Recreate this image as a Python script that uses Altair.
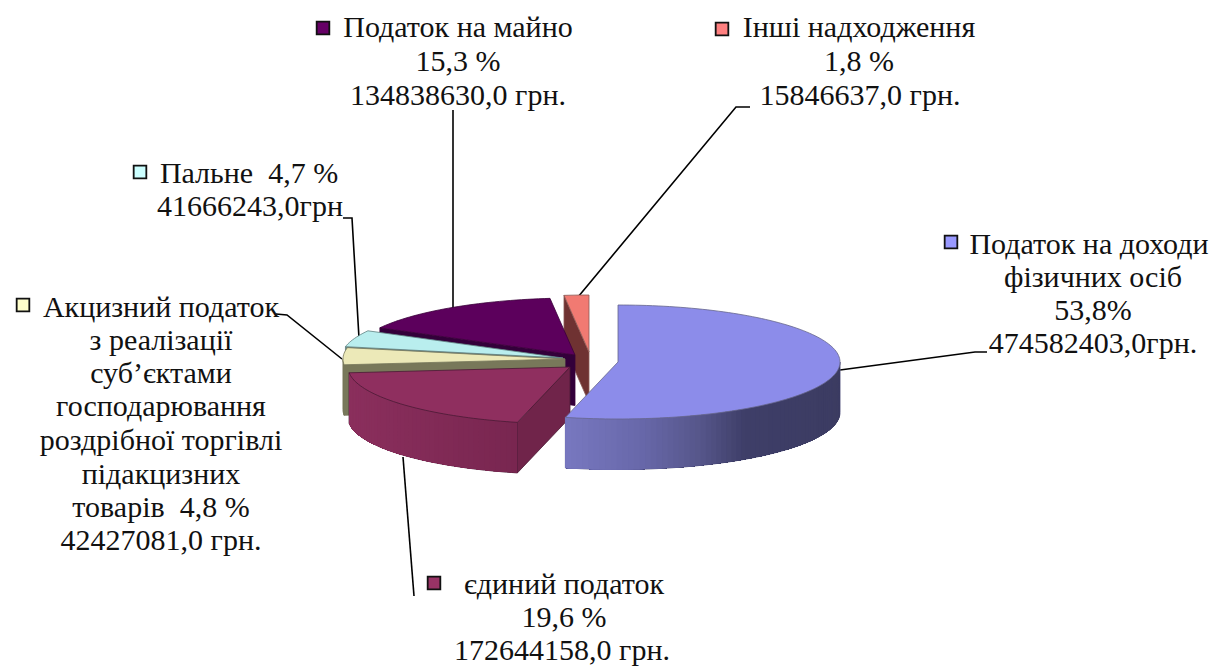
import numpy as np
import pandas as pd
import altair as alt

# ---- chart values ----
names = ["Податок на доходи фізичних осіб", "єдиний податок", "Акцизний податок", "Пальне", "Податок на майно", "Інші надходження"]
amounts = [474582403.0, 172644158.0, 42427081.0, 41666243.0, 134838630.0, 15846637.0]
top_colors = ["#8c8cea", "#8f2f5f", "#ece9b8", "#b9eeee", "#5c005c", "#f17a72"]
key_colors = ["#9999ff", "#993366", "#ffffcc", "#ccffff", "#660066", "#ff8080"]
radial_colors = ["#6f6fb4", "#70244a", "#78785a", "#6a8a8a", "#33003a", "#6f3232"]
wall_left = ["#7878c0", "#8b2f5d", "#78785a", "#6a8a8a", "#33003a", "#6f3232"]
wall_right = ["#3c3c62", "#782650", "#78785a", "#6a8a8a", "#33003a", "#6f3232"]
edge_colors = ["#66668c", "#4a1a35", "#77775a", "#5f8080", "#3a003a", "#8a5a55"]
label_lines = [
    ["Податок на доходи", "фізичних осіб", "53,8%", "474582403,0грн."],
    ["єдиний податок", "19,6 %", "172644158,0 грн."],
    ["Акцизний податок", "з реалізації", "суб’єктами", "господарювання", "роздрібної торгівлі", "підакцизних", "товарів\u00a0\u00a04,8 %", "42427081,0 грн."],
    ["Пальне\u00a0\u00a04,7 %", "41666243,0грн"],
    ["Податок на майно", "15,3 %", "134838630,0 грн."],
    ["Інші надходження", "1,8 %", "15846637,0 грн."],
]

# ---- layout of the drawing ----
centers = [(618, 362), (570, 367), (565, 359), (563, 358), (575, 355), (589, 352)]
RX, RY, DEPTH = 222.0, 57.0, 50.5
label_pos = [
    [(1089, 245), (1093, 278), (1093, 311), (1093, 344)],
    [(564, 585), (564, 618), (562, 651)],
    [(161, 308), (161, 341), (161, 374), (161, 407), (161, 441), (161, 475), (161, 508), (161, 541)],
    [(249, 174), (250, 207)],
    [(458, 28), (458, 62), (458, 96)],
    [(859, 28), (859, 62), (860, 96)],
]
key_pos = [(951, 242), (434, 583), (23, 305), (140, 172), (323, 28), (722, 29)]
leaders = [
    [(840, 370), (975, 352), (987, 352)],
    [(403, 457), (414, 596)],
    [(276, 314), (287, 315), (342, 359)],
    [(343, 218), (352, 218), (359, 338)],
    [(453, 110), (453, 308)],
    [(750, 107), (736, 107), (578, 297)],
]

total = sum(amounts)
edges = np.concatenate([[0.0], np.cumsum(amounts) / total * 360.0])


def pt(c, a):
    r = np.radians(a)
    return c[0] + RX * np.sin(r), c[1] - RY * np.cos(r)


def hex2rgb(h):
    return np.array([int(h[i:i + 2], 16) for i in (1, 3, 5)], float)


def rgb2hex(v):
    return "#%02x%02x%02x" % tuple(int(round(x)) for x in v)


def blue_shade(x):
    xs = [565, 640, 700, 745, 840]
    cs = np.array([[120, 120, 192], [104, 104, 170], [86, 86, 138], [62, 62, 104], [60, 60, 98]], float)
    return rgb2hex([np.interp(x, xs, cs[:, i]) for i in range(3)])


rows = []
pid = 0


def add(poly, fill, stroke, width):
    global pid
    closed = list(poly) + [poly[0]]
    for s, (x, y) in enumerate(closed):
        rows.append(dict(pid=pid, seq=s, x=x, y=y, fill=fill, stroke=stroke, w=width))
    pid += 1


for i in [5, 4, 3, 2, 1, 0]:
    c = centers[i]
    a0, a1 = edges[i], edges[i + 1]
    # radial wall at the start of the slice, seen from the front
    if 180 < a0 < 360:
        p = pt(c, a0)
        add([p, c, (c[0], c[1] + DEPTH), (p[0], p[1] + DEPTH)], radial_colors[i], edge_colors[i], 0.8)
    # outer wall: outline underlay, then overlapping bands that carry the shading
    lo, hi = max(a0, 90.0), min(a1, 270.0)
    if hi > lo:
        steps = np.linspace(lo, hi, int((hi - lo) / 1.5) + 2)
        top = [pt(c, a) for a in steps]
        under = top + [(x, y + DEPTH) for x, y in reversed(top)]
        add(under, wall_right[i], edge_colors[i], 1.0)
        n = len(top)
        # every band reaches on to the far end of the wall, the next one paints over it
        for k in range(n - 1):
            band = top[k:]
            mx = (top[k][0] + top[k + 1][0]) / 2
            if i == 0:
                col = blue_shade(mx)
            else:
                t = np.clip((mx - 345) / 175, 0, 1)
                col = rgb2hex(hex2rgb(wall_left[i]) * (1 - t) + hex2rgb(wall_right[i]) * t)
            add(band + [(x, y + DEPTH) for x, y in reversed(band)], col, col, 0.01)
    # top face
    arc = [pt(c, a) for a in np.linspace(a0, a1, int((a1 - a0) / 1.5) + 2)]
    add([c] + arc, top_colors[i], edge_colors[i], 0.8)

shapes = pd.DataFrame(rows)

text_rows = []
for lines, pos in zip(label_lines, label_pos):
    for t, (x, y) in zip(lines, pos):
        text_rows.append(dict(t=t, x=x, y=y))
texts = pd.DataFrame(text_rows)

keys = pd.DataFrame([dict(name=n, x=p[0], y=p[1], fill=f) for n, p, f in zip(names, key_pos, key_colors)])

lead_rows = []
for k, seg in enumerate(leaders):
    for s, (x, y) in enumerate(seg):
        lead_rows.append(dict(k=k, seq=s, x=x, y=y))
leads = pd.DataFrame(lead_rows)

X = alt.X("x:Q", scale=alt.Scale(domain=[8, 1209], nice=False, zero=False), axis=None)
Y = alt.Y("y:Q", scale=alt.Scale(domain=[666, 8], nice=False, zero=False), axis=None)

shape_layer = alt.Chart(shapes).mark_line(strokeJoin="round", clip=False).encode(
    x=X, y=Y, detail="pid:N", order="seq:Q",
    fill=alt.Fill("fill:N", scale=None), stroke=alt.Stroke("stroke:N", scale=None),
    strokeWidth=alt.StrokeWidth("w:Q", scale=None),
)
lead_layer = alt.Chart(leads).mark_line(color="black", strokeWidth=1.6).encode(
    x=X, y=Y, detail="k:N", order="seq:Q"
)
key_layer = alt.Chart(keys).mark_square(size=160, stroke="#111111", strokeWidth=1.8, opacity=1).encode(
    x=X, y=Y, fill=alt.Fill("fill:N", scale=None)
)
text_layer = alt.Chart(texts).mark_text(font="Liberation Serif", fontSize=30, color="#111111", align="center", baseline="middle").encode(
    x=X, y=Y, text="t:N"
)

chart = alt.layer(lead_layer, shape_layer, key_layer, text_layer).properties(
    width=1201, height=658, padding=0, background="white",
    autosize=alt.AutoSizeParams(type="none"),
).configure_view(stroke=None)

chart.save("out.html", embed_options={"renderer": "svg", "actions": False})
